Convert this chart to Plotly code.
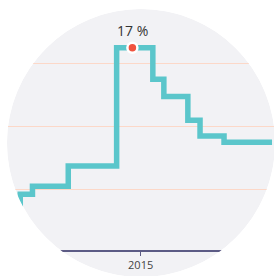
import math
import plotly.graph_objects as go

# ---- data ----
months = ["2014-02-01", "2014-03-01", "2014-04-01", "2014-05-01", "2014-06-01",
          "2014-07-01", "2014-08-01", "2014-09-01", "2014-10-01", "2014-11-01",
          "2014-12-01", "2015-01-01", "2015-02-01", "2015-03-01", "2015-04-01",
          "2015-05-01", "2015-06-01", "2015-07-01", "2015-08-01", "2015-09-01",
          "2015-10-01", "2015-11-01", "2015-12-01"]
rates = [7.0, 7.7, 8.2, 8.2, 8.2,
         9.5, 9.5, 9.5, 9.5, 17.0,
         17.0, 17.0, 15.0, 13.9, 13.9,
         12.4, 11.4, 11.4, 11.0, 11.0,
         11.0, 11.0, 11.0]
peak_date = ["2014-12-11"]
peak_value = [17.0]
peak_label = "17 %"

W, H = 274, 276
ML, MR, MT, MB = 0, 0, 0, 26
PW, PH = W - ML - MR, H - MT - MB

# circle (pixel geometry of the round frame)
CX, CY, R = 141, 143, 134


def px_to_paper(px, py):
    return (px - ML) / PW, (MT + PH - py) / PH


fig = go.Figure()
fig.add_trace(go.Scatter(
    x=months, y=rates, mode="lines", line=dict(shape="hv", color="#5bc6cb", width=5.5),
    hoverinfo="skip", showlegend=False))
fig.add_trace(go.Scatter(
    x=peak_date, y=peak_value, mode="markers",
    marker=dict(size=10, color="#f0533f", line=dict(color="white", width=2.5)),
    hoverinfo="skip", showlegend=False))

fig.add_annotation(x=peak_date[0], y=peak_value[0], text=peak_label, showarrow=False,
                   yshift=17, font=dict(family="Open Sans", size=14, color="#333333"))

# background circle
x0, y1 = px_to_paper(CX - R, CY - R)
x1, y0 = px_to_paper(CX + R, CY + R)
fig.add_shape(type="circle", xref="paper", yref="paper", x0=x0, x1=x1, y0=y0, y1=y1,
              fillcolor="#f2f2f5", line=dict(width=0), layer="below")

# white mask with circular hole
pts = []
N = 240
for i in range(N):
    a = 2 * math.pi * i / N
    pts.append(px_to_paper(CX + R * math.cos(a), CY + R * math.sin(a)))
path = "M-1,-1 L2,-1 L2,2 L-1,2 Z "
path += "M" + " L".join(f"{x:.5f},{y:.5f}" for x, y in pts) + " Z"
fig.add_shape(type="path", xref="paper", yref="paper", path=path, fillcolor="white",
              fillrule="evenodd", line=dict(width=0), layer="above")

fig.update_xaxes(range=["2014-01-08 12:00", "2015-12-06"], showgrid=False, zeroline=False,
                 showline=True, linecolor="#5c5b85", linewidth=1.5,
                 ticks="outside", ticklen=4, tickcolor="#5c5b85", tickwidth=1,
                 dtick="M12", tick0="2015-01-01", tickformat="%Y",
                 tickfont=dict(family="Open Sans", size=11, color="#444444"))
fig.update_yaxes(range=[4.16, 20.03], showgrid=True, gridcolor="#fcd8c8", gridwidth=1,
                 dtick=4, tick0=0, showticklabels=False, zeroline=False, showline=False)

fig.update_layout(width=W, height=H, margin=dict(l=ML, r=MR, t=MT, b=MB),
                  paper_bgcolor="white", plot_bgcolor="rgba(0,0,0,0)",
                  showlegend=False)

fig.write_html("out.html",
               config={"displayModeBar": False, "staticPlot": True},
               post_script="document.body.style.margin='0';"
                           "document.documentElement.style.overflow='hidden';")
